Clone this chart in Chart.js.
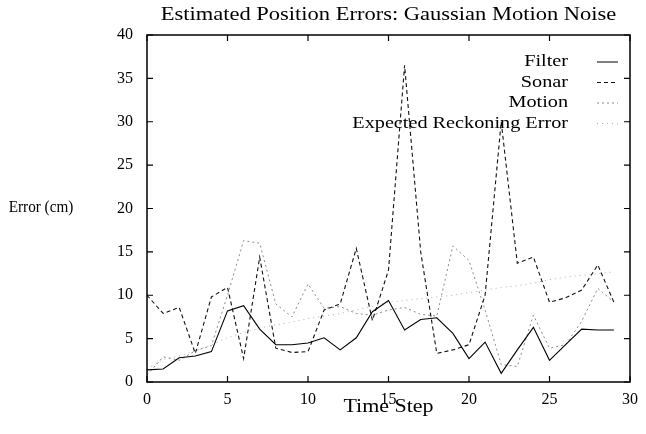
<!DOCTYPE html>
<html>
<head>
<meta charset="utf-8">
<script src="https://cdn.jsdelivr.net/npm/chart.js@4.4.1/dist/chart.umd.min.js"></script>
<style>
    html, body { margin: 0; padding: 0; background: #fff; }
    #wrap { width: 646px; height: 434px; }
</style>
</head>
<body>
<div id="wrap"><canvas id="chart" width="646" height="434"></canvas></div>
<script>
const timeSteps = [0, 1, 2, 3, 4, 5, 6, 7, 8, 9, 10, 11, 12, 13, 14, 15, 16, 17, 18, 19, 20, 21, 22, 23, 24, 25, 26, 27, 28, 29];
const filterErr = [1.4, 1.5, 2.8, 3.0, 3.5, 8.2, 8.8, 6.1, 4.3, 4.3, 4.5, 5.1, 3.7, 5.1, 8.1, 9.4, 6.0, 7.2, 7.4, 5.6, 2.7, 4.6, 1.0, 3.7, 6.3, 2.5, 4.3, 6.1, 6.0, 6.0];
const sonarErr = [10.0, 7.9, 8.6, 3.3, 9.8, 10.9, 2.7, 14.4, 3.9, 3.4, 3.5, 8.3, 9.0, 15.4, 7.1, 12.9, 36.5, 15.0, 3.3, 3.7, 4.3, 10.0, 30.0, 13.7, 14.4, 9.2, 9.7, 10.6, 13.5, 9.2];
const motionErr = [0.8, 2.9, 2.5, 3.6, 4.2, 10.0, 16.3, 16.0, 9.0, 7.5, 11.3, 8.5, 8.7, 7.9, 7.7, 8.3, 8.6, 7.8, 7.6, 15.7, 14.0, 8.3, 2.0, 1.8, 7.7, 3.9, 4.3, 7.0, 10.8, 9.2];
const expectedErr = [1.5, 2.6, 3.0, 3.6, 4.3, 5.1, 5.7, 6.2, 6.6, 6.9, 7.3, 7.6, 7.9, 8.3, 8.7, 9.2, 9.4, 9.6, 9.8, 10.0, 10.3, 10.6, 10.9, 11.1, 11.4, 11.8, 12.1, 12.3, 12.5, 12.7];
const xTicks = [0, 5, 10, 15, 20, 25, 30];
const yTicks = [0, 5, 10, 15, 20, 25, 30, 35, 40];

const serif = '"Liberation Serif", "DejaVu Serif", serif';

const toPoints = (values) => values.map((v, i) => ({ x: timeSteps[i], y: v }));

const series = (label, values, color, dash, width) => ({
    label,
    data: toPoints(values),
    borderColor: color,
    borderWidth: width,
    borderDash: dash,
    pointRadius: 0,
    fill: false,
    tension: 0,
});

// the source text is a bit wider than Liberation Serif, so stretch it
const wideText = (ctx, text, x, y, stretch) => {
    ctx.save();
    ctx.translate(x, y);
    ctx.scale(stretch, 1);
    ctx.fillText(text, 0, 0);
    ctx.restore();
};

// frame, inward ticks, title, axis labels and the right-aligned legend
const gnuplotLook = {
    id: 'gnuplotLook',
    afterDraw(chart) {
        const { ctx, chartArea: area, scales } = chart;
        ctx.save();
        ctx.strokeStyle = '#000';
        ctx.lineWidth = 1.5;
        ctx.strokeRect(area.left, area.top, area.right - area.left, area.bottom - area.top);

        ctx.lineWidth = 1.2;
        ctx.beginPath();
        xTicks.forEach((t) => {
            const px = scales.x.getPixelForValue(t);
            ctx.moveTo(px, area.bottom);
            ctx.lineTo(px, area.bottom - 6);
            ctx.moveTo(px, area.top);
            ctx.lineTo(px, area.top + 6);
        });
        yTicks.forEach((t) => {
            const py = scales.y.getPixelForValue(t);
            ctx.moveTo(area.left, py);
            ctx.lineTo(area.left + 6, py);
            ctx.moveTo(area.right, py);
            ctx.lineTo(area.right - 6, py);
        });
        ctx.stroke();

        ctx.fillStyle = '#000';
        ctx.textBaseline = 'middle';
        ctx.textAlign = 'center';
        const midX = (area.left + area.right) / 2;
        ctx.font = '18px ' + serif;
        wideText(ctx, 'Estimated Position Errors: Gaussian Motion Noise', midX, 15, 1.25);
        wideText(ctx, 'Time Step', midX, 407, 1.22);
        ctx.font = '16px ' + serif;
        wideText(ctx, 'Error (cm)', 41, 208, 0.95);

        ctx.font = '17px ' + serif;
        ctx.textAlign = 'right';
        chart.data.datasets.forEach((ds, i) => {
            const y = 62 + i * 20.5;
            wideText(ctx, ds.label, 568, y, 1.19);
            ctx.strokeStyle = ds.borderColor;
            ctx.lineWidth = 1;
            ctx.setLineDash(ds.borderDash || []);
            ctx.beginPath();
            ctx.moveTo(597, y);
            ctx.lineTo(618, y);
            ctx.stroke();
        });
        ctx.restore();
    },
};

new Chart(document.getElementById('chart'), {
    type: 'line',
    data: {
        datasets: [
            series('Filter', filterErr, '#000000', [], 1.1),
            series('Sonar', sonarErr, '#111111', [4, 3], 1.1),
            series('Motion', motionErr, '#8a8a8a', [2, 3], 1),
            series('Expected Reckoning Error', expectedErr, '#b0b0b0', [1, 4], 1),
        ],
    },
    options: {
        responsive: false,
        animation: false,
        layout: { padding: { top: 35, right: 10, left: 0, bottom: 0 } },
        plugins: {
            legend: { display: false },
            title: { display: false },
            tooltip: { enabled: false },
        },
        scales: {
            x: {
                type: 'linear',
                min: 0,
                max: 30,
                afterFit: (scale) => { scale.height = 52; },
                afterBuildTicks: (scale) => { scale.ticks = xTicks.map((v) => ({ value: v })); },
                grid: { display: false, drawTicks: false },
                border: { display: false },
                ticks: { padding: 8, color: '#000', font: { family: serif, size: 16 } },
            },
            y: {
                min: 0,
                max: 40,
                afterFit: (scale) => { scale.width = 147; },
                afterBuildTicks: (scale) => { scale.ticks = yTicks.map((v) => ({ value: v })); },
                grid: { display: false, drawTicks: false },
                border: { display: false },
                ticks: { padding: 14, color: '#000', font: { family: serif, size: 16 } },
            },
        },
    },
    plugins: [gnuplotLook],
});
</script>
</body>
</html>
